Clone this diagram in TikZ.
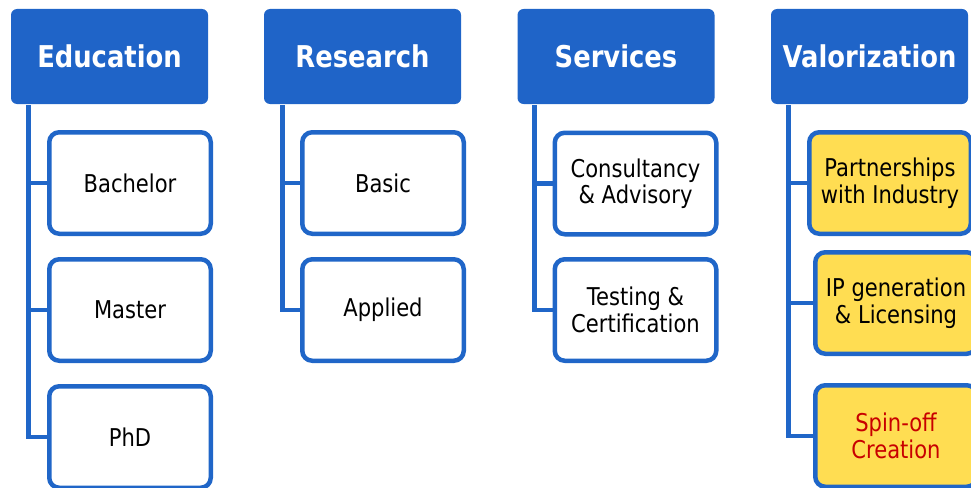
\documentclass[tikz,border=0pt]{standalone}
\usepackage{fontspec}
\setmainfont{DejaVu Sans}[FakeStretch=0.86]
\definecolor{hdrblue}{RGB}{31,100,200}
\definecolor{boxblue}{RGB}{32,102,200}
\definecolor{ylw}{RGB}{255,221,82}
\definecolor{spinred}{RGB}{200,0,0}
\begin{document}
\begin{tikzpicture}[x=1pt,y=-1pt,
  hdr/.style={fill=hdrblue, rounded corners=6pt, minimum width=197pt, minimum height=95pt,
    inner sep=0pt, text=white, font=\fontsize{30}{34}\selectfont\bfseries},
  child/.style={draw=boxblue, line width=4.5pt, fill=white, rounded corners=10pt,
    minimum width=161.5pt, minimum height=101.5pt, inner sep=0pt, align=center,
    font=\fontsize{24.5}{26.5}\selectfont},
  valchild/.style={child, fill=ylw},
  link/.style={draw=boxblue, line width=4.5pt}]
\useasboundingbox (0,0) rectangle (971,487);

% headers
\node[hdr] (edu) at (109.5,56.5) {Education};
\node[hdr] (res) at (362.5,56.5) {Research};
\node[hdr] (ser) at (616,56.5) {Services};
\node[hdr] (val) at (869.5,56.5) {Valorization};

% education
\node[child] (bach) at (130,183) {Bachelor};
\node[child] (mast) at (130,310) {Master};
\node[child] (phd) at (130,437) {PhD};
\coordinate (e0) at (28.5,105);
\draw[link] (e0) |- (phd.west);
\draw[link] (e0 |- bach.west) -- (bach.west);
\draw[link] (e0 |- mast.west) -- (mast.west);

% research
\node[child] (basic) at (383,183) {Basic};
\node[child] (appl) at (383,310) {Applied};
\coordinate (r0) at (282.5,105);
\draw[link] (r0) |- (appl.west);
\draw[link] (r0 |- basic.west) -- (basic.west);

% services
\node[child] (cons) at (635.5,183.5) {Consultancy\\\& Advisory};
\node[child] (test) at (635.5,310) {Testing \&\\Certification};
\coordinate (s0) at (534.5,105);
\draw[link] (s0) |- (test.west);
\draw[link] (s0 |- cons.west) -- (cons.west);

% valorization
\node[valchild] (part) at (890,183) {Partnerships\\with Industry};
\node[valchild] (ipg) at (896,303) {IP generation\\\& Licensing};
\node[valchild, text=spinred] (spin) at (896,436) {Spin-off\\Creation};
\coordinate (v0) at (788.5,105);
\draw[link] (v0) |- (spin.west);
\draw[link] (v0 |- part.west) -- (part.west);
\draw[link] (v0 |- ipg.west) -- (ipg.west);
\end{tikzpicture}
\end{document}
